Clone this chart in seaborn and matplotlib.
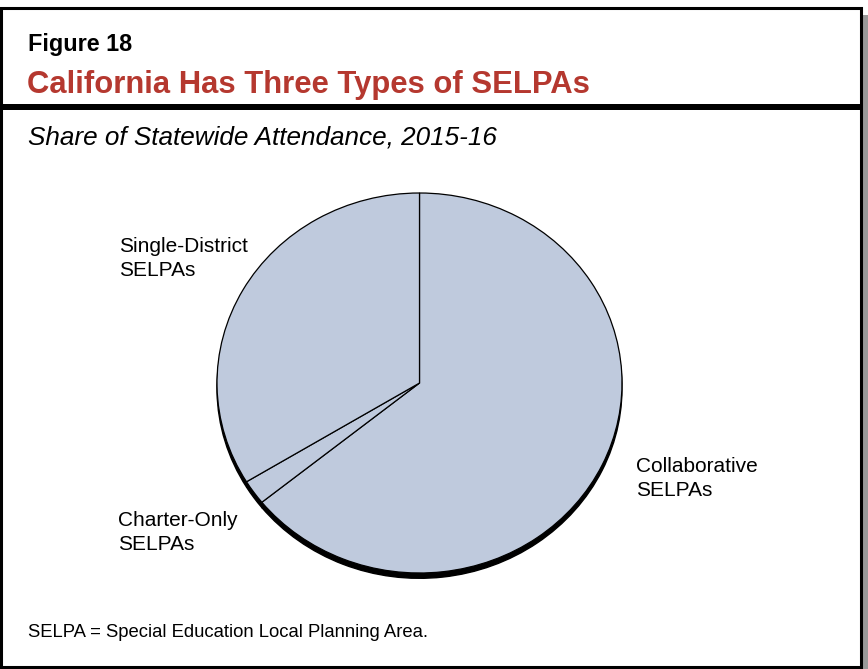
import matplotlib
matplotlib.use("Agg")
import matplotlib.pyplot as plt
from matplotlib.patches import Rectangle
import seaborn as sns

# Share of statewide attendance, 2015-16
segments = ["Collaborative", "Charter-Only", "Single-District"]
shares = [64.2, 2.1, 33.7]
label_text = ["Collaborative\nSELPAs", "Charter-Only\nSELPAs", "Single-District\nSELPAs"]

sns.set_theme(style="white")
plt.rcParams["font.family"] = ["Liberation Sans", "DejaVu Sans"]
plt.rcParams["text.color"] = "black"

W, H = 868, 669
fig = plt.figure(figsize=(W / 100, H / 100), dpi=100)
fig.patch.set_facecolor("white")

# background axes in pixel coordinates for the frame and text
bg = fig.add_axes([0, 0, 1, 1])
bg.set_xlim(0, W)
bg.set_ylim(H, 0)
bg.axis("off")

# gray drop shadow on the right, then the black frame
bg.add_patch(Rectangle((861, 15), 7, 654, color="#9a9a9a", lw=0))
bg.add_patch(Rectangle((1, 8), 860, 659, facecolor="white", edgecolor="black", lw=2.2))
bg.add_patch(Rectangle((1, 104), 860, 6, color="black", lw=0))

bg.text(28, 51, "Figure 18", fontsize=16.8, fontweight="bold", va="baseline", ha="left")
bg.text(27, 93, "California Has Three Types of SELPAs", fontsize=22.3,
        fontweight="bold", color="#b5382f", va="baseline", ha="left")
bg.text(28, 144, "Share of Statewide Attendance, 2015-16", fontsize=18.8,
        fontstyle="italic", va="baseline", ha="left")
bg.text(28, 637, "SELPA = Special Education Local Planning Area.", fontsize=13.3,
        va="baseline", ha="left")

# pie (slightly elliptical, with a dark extrusion underneath)
px0, px1, py0, py1 = 217, 622, 193, 573
pie_ax = fig.add_axes([px0 / W, 1 - py1 / H, (px1 - px0) / W, (py1 - py0) / H])
pie_ax.pie(shares, startangle=90, counterclock=False, center=(0, -0.028),
           colors=["black"] * len(shares),
           wedgeprops=dict(edgecolor="black", linewidth=1.0))
pie_ax.pie(shares, startangle=90, counterclock=False,
           colors=["#bfcadd"] * len(shares),
           wedgeprops=dict(edgecolor="black", linewidth=0.9))
pie_ax.set_aspect("auto")
pie_ax.set_xlim(-1, 1)
pie_ax.set_ylim(-1, 1)
pie_ax.axis("off")

# label positions: baseline of the first line
label_pos = {"Collaborative": (636, 471.5), "Charter-Only": (118, 525.5), "Single-District": (119, 251.5)}
for seg, txt in zip(segments, label_text):
    x, y = label_pos[seg]
    first, second = txt.split("\n")
    bg.text(x, y, first, fontsize=15, va="baseline", ha="left")
    bg.text(x, y + 24, second, fontsize=15, va="baseline", ha="left")

fig.savefig("out.png", dpi=100)
